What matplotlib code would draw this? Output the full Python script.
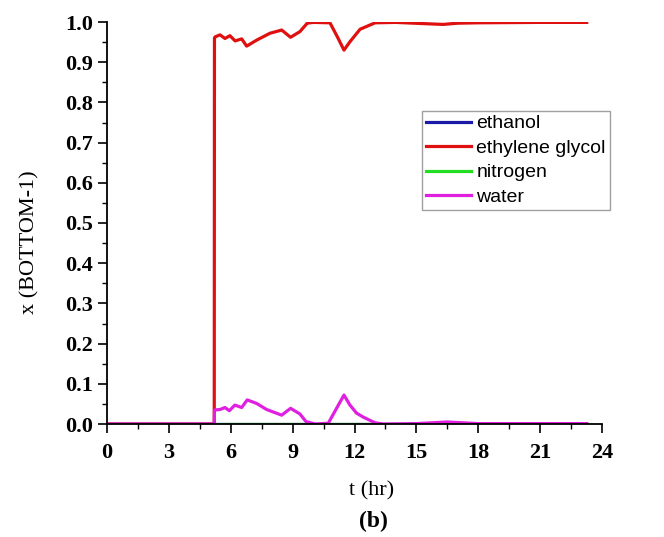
import numpy as np
import matplotlib.pyplot as plt
from matplotlib.ticker import MultipleLocator

# bottom stage (BOTTOM-1) liquid mole fractions vs time
t_eg = [0, 5.2, 5.21, 5.24, 5.48, 5.72, 5.96, 6.21, 6.53, 6.77, 7.26, 7.9, 8.47,
        8.9, 9.35, 9.71, 10.0, 10.81, 11.17, 11.49, 11.78, 12.27, 13.0, 14.0,
        15.8, 16.3, 17.0, 18.0, 21.0, 23.26]
x_eg = [0, 0, 0.96, 0.963, 0.968, 0.959, 0.966, 0.953, 0.958, 0.940, 0.955,
        0.972, 0.980, 0.962, 0.976, 0.997, 0.999, 0.998, 0.963, 0.930, 0.951,
        0.982, 0.998, 0.999, 0.995, 0.994, 0.997, 0.998, 0.999, 0.999]

t_w = [0, 5.2, 5.21, 5.24, 5.48, 5.72, 5.93, 6.2, 6.53, 6.8, 7.26, 7.74, 8.47,
       8.9, 9.35, 9.65, 10.1, 10.73, 11.13, 11.49, 11.78, 12.1, 12.43, 13.0,
       13.4, 15.0, 16.5, 18.0, 21.0, 23.26]
x_w = [0, 0, 0.034, 0.035, 0.036, 0.041, 0.033, 0.047, 0.041, 0.060, 0.051,
       0.036, 0.022, 0.039, 0.025, 0.006, 0.0, 0.002, 0.039, 0.072, 0.047,
       0.027, 0.017, 0.003, 0.0, 0.001, 0.005, 0.001, 0.001, 0.001]

t_n = [0, 23.26]
x_n = [0, 0]
t_et = [0, 23.26]
x_et = [0, 0]

fig = plt.figure(figsize=(6.64, 5.37), dpi=100)
ax = fig.add_axes([107 / 664, 1 - 424 / 537, 495 / 664, 402 / 537])

ax.plot(t_et, x_et, color='#1a1aa6', lw=2.3, label='ethanol')
ax.plot(t_eg, x_eg, color='#e01010', lw=2.3, label='ethylene glycol')
ax.plot(t_n, x_n, color='#22dd22', lw=2.3, label='nitrogen')
ax.plot(t_w, x_w, color='#e020e0', lw=2.3, label='water')

ax.set_xlim(0, 24)
ax.set_ylim(0, 1.0)
ax.xaxis.set_major_locator(MultipleLocator(3))
ax.xaxis.set_minor_locator(MultipleLocator(1.5))
ax.yaxis.set_major_locator(MultipleLocator(0.1))
ax.yaxis.set_minor_locator(MultipleLocator(0.05))
ax.yaxis.set_major_formatter(plt.FormatStrFormatter('%.1f'))

for side in ['top', 'right']:
    ax.spines[side].set_visible(False)
for side in ['left', 'bottom']:
    ax.spines[side].set_linewidth(1.3)

ax.tick_params(which='major', direction='out', length=6.5, width=1.2)
ax.tick_params(which='minor', direction='out', length=3.5, width=1.0)
ax.tick_params(axis='x', which='major', pad=7)

for lab in ax.get_xticklabels() + ax.get_yticklabels():
    lab.set_fontfamily('Liberation Serif')
    lab.set_fontweight('bold')
    lab.set_fontsize(16)

ax.set_ylabel('x (BOTTOM-1)', family='Liberation Serif', fontsize=16)
ax.yaxis.set_label_coords((39 - 107) / 495, 0.453)
ax.set_xlabel('t (hr)', family='Liberation Serif', fontsize=16)
ax.xaxis.set_label_coords((372 - 107) / 495, (424 - 481) / 402)
fig.text(373 / 664, 1 - 521 / 537, '(b)', family='Liberation Serif',
         fontsize=17, fontweight='bold', ha='center', va='center')

leg = ax.legend(loc='upper left', bbox_to_anchor=(315 / 495, 1 - 89 / 402),
                prop={'family': 'Liberation Sans', 'size': 14},
                frameon=True, fancybox=False, borderpad=0.2, handlelength=2.3,
                handletextpad=0.3, borderaxespad=0, labelspacing=0.35)
leg.get_frame().set_edgecolor('#888888')
leg.get_frame().set_linewidth(1.0)

fig.savefig('out.png', dpi=100)
